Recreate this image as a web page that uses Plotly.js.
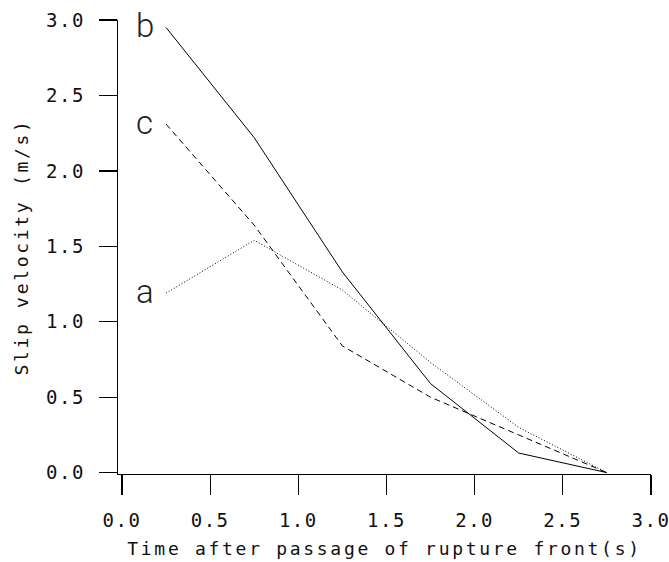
<!DOCTYPE html>
<html>
<head>
<meta charset="utf-8">
<script src="https://cdn.plot.ly/plotly-3.0.1.min.js"></script>
<style>
  html, body { margin: 0; padding: 0; background: #fff; }
  #chart { width: 669px; height: 562px; }
  .xtick text, .ytick text { letter-spacing: 1.5px; }
  .xtitle, .ytitle { letter-spacing: 2.7px; }
</style>
</head>
<body>
<div id="chart"></div>
<script>
// Time after passage of rupture front (s)
const timeA = [0.25, 0.75, 1.25, 1.75, 2.25, 2.75];
const timeB = [0.25, 0.75, 1.25, 1.75, 2.25, 2.75];
const timeC = [0.25, 0.75, 1.25, 1.75, 2.25, 2.75];
// Slip velocity (m/s)
const slipA = [1.19, 1.54, 1.21, 0.73, 0.30, 0.00];
const slipB = [2.95, 2.22, 1.33, 0.59, 0.13, 0.00];
const slipC = [2.31, 1.64, 0.84, 0.50, 0.25, 0.00];
const curveNames = ['a', 'b', 'c'];
const tickVals = [0, 0.5, 1.0, 1.5, 2.0, 2.5, 3.0];
const tickText = ['0.0', '0.5', '1.0', '1.5', '2.0', '2.5', '3.0'];

const lineStyle = {
  a: { color: '#000', width: 1, dash: '1px,2px' },
  b: { color: '#000', width: 1, dash: 'solid' },
  c: { color: '#000', width: 1, dash: '6px,4px' }
};

const series = { a: [timeA, slipA], b: [timeB, slipB], c: [timeC, slipC] };

const traces = curveNames.map(n => ({
  x: series[n][0], y: series[n][1], type: 'scatter', mode: 'lines',
  line: lineStyle[n], name: n, showlegend: false, hoverinfo: 'skip', cliponaxis: false
}));

const annotations = curveNames.map(n => ({
  x: series[n][0][0] - 0.12, y: series[n][1][0],
  xref: 'x', yref: 'y', text: n, showarrow: false,
  xanchor: 'center', yanchor: 'middle', yshift: 2,
  font: { family: 'Roboto, "Liberation Sans", Arial, sans-serif', size: 33, color: '#222', weight: 300 }
}));

const monoFont = '"DejaVu Sans Mono", "Liberation Mono", monospace';

const layout = {
  width: 669, height: 562,
  margin: { l: 118, r: 18, t: 20, b: 88, pad: 0 },
  paper_bgcolor: '#fff', plot_bgcolor: '#fff',
  showlegend: false,
  xaxis: {
    range: [-0.0227, 3.0005], showgrid: false, zeroline: false,
    showline: true, linecolor: '#000', linewidth: 1.3,
    ticks: 'outside', ticklen: 20, tickwidth: 1.3, tickcolor: '#000',
    tickvals: tickVals, ticktext: tickText,
    tickfont: { family: monoFont, size: 19, color: '#111' },
    ticklabelstandoff: 9, ticklabeloverflow: 'allow',
    title: { text: 'Time after passage of rupture front(s)', standoff: 12,
             font: { family: monoFont, size: 18, color: '#111' } }
  },
  yaxis: {
    range: [-0.009, 3.0], showgrid: false, zeroline: false,
    showline: true, linecolor: '#000', linewidth: 1.3,
    ticks: 'outside', ticklen: 18, tickwidth: 1.3, tickcolor: '#000',
    tickvals: tickVals, ticktext: tickText,
    tickfont: { family: monoFont, size: 19, color: '#111' },
    ticklabelstandoff: 10, ticklabeloverflow: 'allow',
    title: { text: 'Slip velocity (m/s)', standoff: 12,
             font: { family: monoFont, size: 18, color: '#111' } }
  },
  annotations: annotations
};

Plotly.newPlot('chart', traces, layout, { staticPlot: true, displayModeBar: false });
</script>
</body>
</html>
